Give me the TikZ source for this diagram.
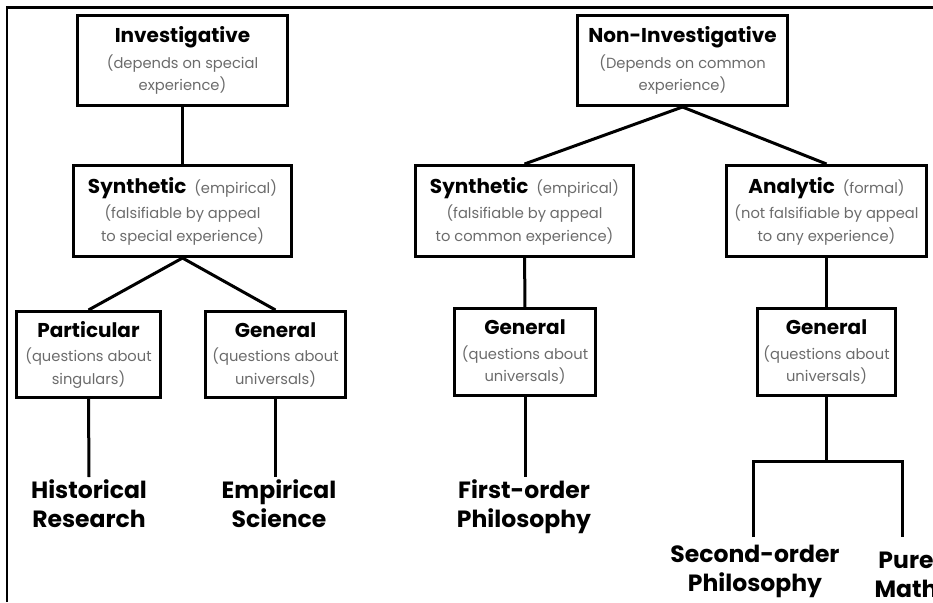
\documentclass[tikz,border=0pt]{standalone}
\usepackage{fontspec}
\setmainfont{Poppins}
\definecolor{subgray}{gray}{0.42}
\newcommand{\ttl}[1]{{\color{black}\fontsize{20}{22}\selectfont\bfseries #1}}
\begin{document}
\begin{tikzpicture}[x=1pt,y=-1pt,
  box/.style={draw, line width=3pt, align=center, inner sep=0pt, text=subgray,
    font=\fontsize{14.7}{22.5}\selectfont},
  leaf/.style={align=center, inner sep=0pt, outer ysep=3pt,
    font=\fontsize{23.5}{29}\selectfont\bfseries},
  link/.style={line width=3pt}]
\useasboundingbox (0,0) rectangle (933,602);
\draw[line width=2.5pt] (7,602) -- (7,7.5) -- (933,7.5);
% boxes
\node[box, minimum width=210pt, minimum height=90pt] (inv) at (182.5,60.5)
  {\ttl{Investigative}\\[3pt](depends on special\\experience)};
\node[box, minimum width=218pt, minimum height=91pt] (syn1) at (182.5,211)
  {\ttl{Synthetic}\ \ (empirical)\\[3pt](falsifiable by appeal\\to special experience)};
\node[box, minimum width=210pt, minimum height=90pt] (non) at (682.5,60.5)
  {\ttl{Non-Investigative}\\[3pt](Depends on common\\experience)};
\node[box, minimum width=218pt, minimum height=91pt] (syn2) at (524.5,211)
  {\ttl{Synthetic}\ \ (empirical)\\[3pt](falsifiable by appeal\\to common experience)};
\node[box, minimum width=200pt, minimum height=91pt] (ana) at (826.5,211)
  {\ttl{Analytic}\ \ (formal)\\[3pt](not falsifiable by appeal\\to any experience)};
\node[box, minimum width=144pt, minimum height=86pt] (part) at (88.5,354.5)
  {\ttl{Particular}\\[2pt](questions about\\singulars)};
\node[box, minimum width=140pt, minimum height=86pt] (gen1) at (275.5,354.5)
  {\ttl{General}\\[2pt](questions about\\universals)};
\node[box, minimum width=141pt, minimum height=87pt] (gen2) at (525,352)
  {\ttl{General}\\[2pt](questions about\\universals)};
\node[box, minimum width=138pt, minimum height=87pt] (gen3) at (826.5,352)
  {\ttl{General}\\[2pt](questions about\\universals)};
% leaves
\node[leaf, anchor=north] (hist) at (89,477) {Historical\\Research};
\node[leaf, anchor=north] (emp) at (279,477) {Empirical\\Science};
\node[leaf, anchor=north] (first) at (524,477) {First-order\\Philosophy};
\node[leaf, anchor=north] (second) at (755,542) {Second-order\\Philosophy};
\node[leaf, anchor=north] (pure) at (906,549) {Pure\\Math};
\coordinate (j) at (826.5,461);
\coordinate (jl) at (753,461);
\coordinate (jr) at (902,461);
\coordinate (el) at (753,537);
\coordinate (er) at (902,537);
% connectors
\draw[link] (inv) -- (syn1);
\draw[link] (syn1.south) -- (part.north);
\draw[link] (syn1.south) -- (gen1.north);
\draw[link] (non.south) -- (syn2.north);
\draw[link] (non.south) -- (ana.north);
\draw[link] (syn2) -- (gen2);
\draw[link] (ana) -- (gen3);
\draw[link] (part.south) -- (hist.north);
\draw[link] (gen1.south) -- (gen1.south |- hist.north);
\draw[link] (gen2.south) -- (gen2.south |- first.north);
\draw[link] (gen3.south) -- (j);
\draw[link] (el) -- (jl) -- (jr) -- (er);
\end{tikzpicture}
\end{document}
